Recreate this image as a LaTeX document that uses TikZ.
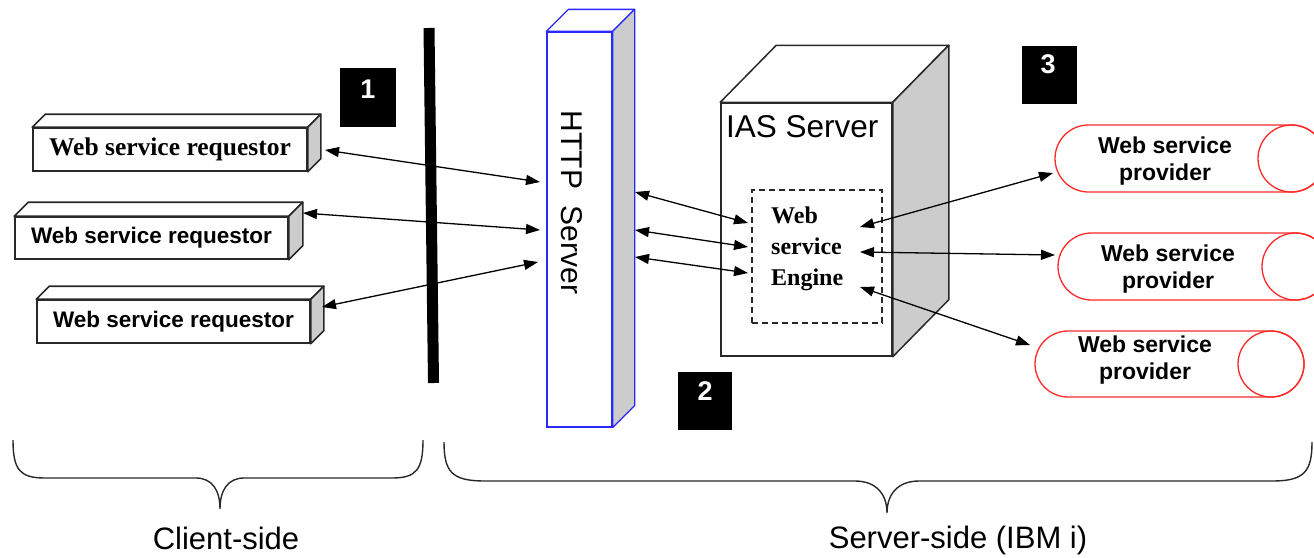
\documentclass[tikz,border=0pt]{standalone}
\usepackage{fontspec}
\setmainfont{Liberation Serif}
\setsansfont{Liberation Sans}
\usetikzlibrary{arrows.meta,calc}
\definecolor{sidegray}{RGB}{204,204,204}
\definecolor{boxblue}{RGB}{40,40,255}
\definecolor{provred}{RGB}{255,40,40}
\definecolor{edge}{RGB}{40,40,40}
\tikzset{
  reqbox/.style={draw=edge, line width=1.6pt, fill=white, inner sep=0pt},
  face/.style={draw=edge, line width=1.6pt, line join=round},
  conn/.style={line width=1.3pt, {Triangle[length=14pt,width=10pt]}-{Triangle[length=14pt,width=10pt]}},
  brace/.style={draw=edge, line width=1.4pt},
  badge/.style={fill=black, draw=none, inner sep=0pt},
  badgetext/.style={text=white, font=\sffamily\bfseries\fontsize{27}{30}\selectfont, inner sep=0pt},
  provtext/.style={font=\sffamily\bfseries\fontsize{23}{27}\selectfont, align=center, inner sep=0pt},
  prov/.style={draw=provred, line width=1.3pt},
}
\begin{document}
\begin{tikzpicture}[x=1pt,y=-1pt]
\useasboundingbox (0,0) rectangle (1314,557);

% ---------- requestors ----------
\node[reqbox, minimum width=274pt, minimum height=43pt, font=\rmfamily\bfseries\fontsize{25.5}{28}\selectfont] (req1) at (170,149.5) {Web service requestor};
\draw[face, fill=white] (req1.north west) -- ++(13,-13) -- ($(req1.north east)+(13,-13)$) -- (req1.north east) -- cycle;
\draw[face, fill=sidegray] (req1.north east) -- ++(13,-13) -- ($(req1.south east)+(13,-13)$) -- (req1.south east) -- cycle;

\node[reqbox, minimum width=273pt, minimum height=42pt, font=\sffamily\bfseries\fontsize{22.5}{26}\selectfont] (req2) at (151.5,238) {Web service requestor};
\draw[face, fill=white] (req2.north west) -- ++(14,-14) -- ($(req2.north east)+(14,-14)$) -- (req2.north east) -- cycle;
\draw[face, fill=sidegray] (req2.north east) -- ++(14,-14) -- ($(req2.south east)+(14,-14)$) -- (req2.south east) -- cycle;

\node[reqbox, minimum width=273pt, minimum height=43pt, font=\sffamily\bfseries\fontsize{22.5}{26}\selectfont] (req3) at (173.5,321.5) {Web service requestor};
\draw[face, fill=white] (req3.north west) -- ++(13,-13) -- ($(req3.north east)+(13,-13)$) -- (req3.north east) -- cycle;
\draw[face, fill=sidegray] (req3.north east) -- ++(13,-13) -- ($(req3.south east)+(13,-13)$) -- (req3.south east) -- cycle;

% ---------- firewall bar ----------
\coordinate (bartop) at (429,28);
\coordinate (barbot) at (433.5,383);
\draw[line width=11pt] (bartop) -- (barbot);

% ---------- badges ----------
\node[badge, minimum width=56pt, minimum height=59pt] (b1) at (368,97.5) {};
\node[badgetext] (t1) at (368,89) {1};
\node[badge, minimum width=54pt, minimum height=58pt] (b2) at (705,401) {};
\node[badgetext] (t2) at (705,391) {2};
\node[badge, minimum width=55pt, minimum height=58pt] (b3) at (1049.5,75) {};
\node[badgetext] (t3) at (1048,64) {3};

% ---------- HTTP server ----------
\node[draw=boxblue, line width=1.3pt, fill=white, minimum width=65pt, minimum height=395pt, inner sep=0pt] (http) at (579.5,229.5) {};
\draw[draw=boxblue, line width=1.3pt, fill=white, line join=round] (http.north west) -- ++(22,-22) -- ($(http.north east)+(22,-22)$) -- (http.north east) -- cycle;
\draw[draw=boxblue, line width=1.3pt, fill=sidegray, line join=round] (http.north east) -- ++(22,-22) -- ($(http.south east)+(22,-22)$) -- (http.south east) -- cycle;
\node[rotate=-90, font=\sffamily\fontsize{30}{34}\selectfont, inner sep=0pt] (httptext) at (571.5,202.5) {HTTP\hspace{0.55em}Server};

% ---------- IAS server ----------
\node[draw=edge, line width=1.5pt, fill=white, minimum width=171pt, minimum height=253pt, inner sep=0pt] (ias) at (806.5,229.5) {};
\draw[face, line width=1.5pt, fill=white] (ias.north west) -- ++(56,-57) -- ($(ias.north east)+(56,-57)$) -- (ias.north east) -- cycle;
\draw[face, line width=1.5pt, fill=sidegray] (ias.north east) -- ++(56,-57) -- ($(ias.south east)+(56,-57)$) -- (ias.south east) -- cycle;
\node[anchor=west, font=\sffamily\fontsize{31.5}{34}\selectfont, inner sep=0pt] (iastext) at (726,127) {IAS Server};
\node[draw=edge, line width=1.3pt, dash pattern=on 6pt off 4pt, minimum width=130pt, minimum height=133pt, inner sep=0pt] (dash) at (817,256.5) {};
\node[anchor=west, align=left, font=\rmfamily\bfseries\fontsize{24}{31}\selectfont, inner sep=0pt] (engine) at (771,249) {Web\\service\\Engine};

% ---------- providers ----------
\begin{scope}
\clip (0,0) rectangle (1314,557);
\draw[prov] (1088.5,125) -- (1291.5,125) arc[start angle=-90, end angle=90, radius=33.5] -- (1088.5,192) arc[start angle=90, end angle=270, radius=33.5] -- cycle;
\draw[prov] (1291.5,158.5) circle[radius=33.5];
\draw[prov] (1091.5,233) -- (1295.5,233) arc[start angle=-90, end angle=90, radius=33.5] -- (1091.5,300) arc[start angle=90, end angle=270, radius=33.5] -- cycle;
\draw[prov] (1295.5,266.5) circle[radius=33.5];
\draw[prov] (1068,331) -- (1271,331) arc[start angle=-90, end angle=90, radius=33] -- (1068,397) arc[start angle=90, end angle=270, radius=33] -- cycle;
\draw[prov] (1271,364) circle[radius=33];
\end{scope}
\node[provtext] (prov1) at (1165,161.5) {Web service\\provider};
\node[provtext] (prov2) at (1168,269) {Web service\\provider};
\node[provtext] (prov3) at (1145,360) {Web service\\provider};

% ---------- connectors ----------
\coordinate (a1s) at (325,150);  \coordinate (a1e) at (540,182);
\coordinate (a2s) at (303,213);  \coordinate (a2e) at (540,230);
\coordinate (a3s) at (322,307);  \coordinate (a3e) at (538,262);
\draw[conn] (a1s) -- (a1e);
\draw[conn] (a2s) -- (a2e);
\draw[conn] (a3s) -- (a3e);
\coordinate (h1) at (635,192); \coordinate (e1) at (748,223);
\coordinate (h2) at (635,230); \coordinate (e2) at (748,247);
\coordinate (h3) at (635,257); \coordinate (e3) at (748,273);
\draw[conn] (h1) -- (e1);
\draw[conn] (h2) -- (e2);
\draw[conn] (h3) -- (e3);
\coordinate (g1) at (860,227); \coordinate (p1) at (1053,173);
\coordinate (g2) at (860,252); \coordinate (p2) at (1055,255);
\coordinate (g3) at (860,287); \coordinate (p3) at (1030,345);
\draw[conn] (g1) -- (p1);
\draw[conn] (g2) -- (p2);
\draw[conn] (g3) -- (p3);

% ---------- braces ----------
\draw[brace] (13,440) .. controls (13,470) and (20,478) .. (45,478)
  -- (196,478) .. controls (212,478) and (220,490) .. (220,509)
  .. controls (220,490) and (228,478) .. (244,478)
  -- (392,478) .. controls (416,478) and (423,470) .. (423,440);
\draw[brace] (444,442) .. controls (444,472) and (452,481) .. (485,481)
  -- (855,481) .. controls (876,481) and (887,494) .. (887,513)
  .. controls (887,494) and (898,481) .. (919,481)
  -- (1272,481) .. controls (1304,481) and (1312,472) .. (1312,442);
\node[font=\sffamily\fontsize{31}{34}\selectfont, inner sep=0pt] (client) at (226,538) {Client-side};
\node[font=\sffamily\fontsize{31}{34}\selectfont, inner sep=0pt] (server) at (958,540) {Server-side (IBM i)};
\end{tikzpicture}
\end{document}
